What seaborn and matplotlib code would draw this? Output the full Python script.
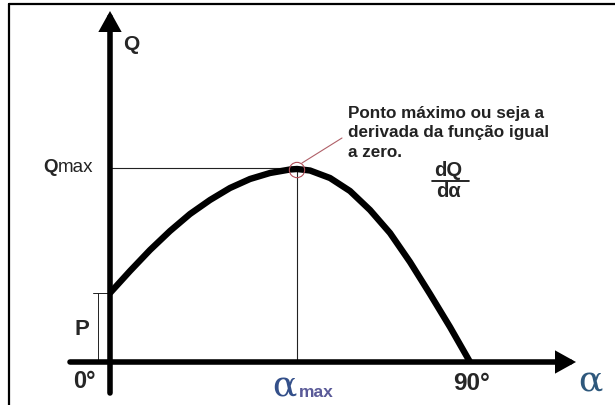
import matplotlib
matplotlib.use("Agg")
import matplotlib.pyplot as plt
import seaborn as sns
import pandas as pd

# Angle (degrees) and Q values along the curve
alpha_deg = [0, 5, 10, 15, 20, 25, 30, 35, 40, 45, 46.75,
             50, 55, 60, 65, 70, 75, 80, 85, 90]
q_values = [69, 91, 112, 131, 148, 162, 174, 183, 189, 192.5, 193,
            191.5, 184, 171, 152, 129, 100, 68, 35, 0]

alpha_max = 46.75
q_max = 193
p_value = 69

tick_labels = ["0°", "90°"]
annotation_lines = ["Ponto máximo ou seja a", "derivada da função igual", "a zero."]

sns.set_style("white")
plt.rcParams["font.family"] = ["Liberation Sans", "DejaVu Sans"]

fig = plt.figure(figsize=(6.15, 4.05), dpi=100)
ax = fig.add_axes([0, 0, 1, 1])
ax.set_xlim(-27.5, 126.25)
ax.set_ylim(-43, 362)
ax.axis("off")

df = pd.DataFrame({"alpha": alpha_deg, "Q": q_values})

# guide lines to the maximum
ax.plot([0, alpha_max], [q_max + 1, q_max + 1], color="#222222", lw=0.8, zorder=1)
ax.plot([alpha_max, alpha_max], [0, q_max], color="#222222", lw=0.8, zorder=1)

# P bracket
ax.plot([-3, -3], [0, p_value], color="#222222", lw=0.7, zorder=1)
ax.plot([-4.25, 0], [p_value, p_value], color="#222222", lw=0.7, zorder=1)

# curve
line_ax = sns.lineplot(data=df, x="alpha", y="Q", ax=ax, color="black", lw=4.6,
                       sort=False, zorder=3)
for ln in line_ax.lines[-1:]:
    ln.set_solid_joinstyle("round")
    ln.set_solid_capstyle("butt")

# coordinate axes with arrowheads
arrow_kw = dict(arrowstyle="-|>,head_length=0.9,head_width=0.5", color="black",
                lw=4.0, shrinkA=0, shrinkB=0, joinstyle="miter")
ax.annotate("", xy=(0, 351), xytext=(0, -31), arrowprops=arrow_kw, zorder=4)
ax.annotate("", xy=(116.5, 0), xytext=(-10, 0), arrowprops=arrow_kw, zorder=4)

# marker at the maximum
ax.scatter([alpha_max], [q_max - 1], s=11 ** 2, facecolors="none",
           edgecolors="#b0505a", linewidths=0.8, zorder=5)
ax.plot([48, 58], [q_max + 6, q_max + 31], color="#b06068", lw=0.8, zorder=5)

# labels
ax.text(3.25, 312, "Q", fontsize=15, fontweight="bold", ha="left", va="baseline")
ax.text(-16.75, 190, "Q", fontsize=13.5, fontweight="bold", ha="left", va="baseline")
ax.text(-13.1, 190, "max", fontsize=13.5, ha="left", va="baseline", color="#222222")
ax.text(-8.75, 27, "P", fontsize=16, fontweight="bold", ha="left", va="baseline")
ax.text(-9.25, -26, tick_labels[0], fontsize=17, fontweight="bold", ha="left", va="baseline")
ax.text(85.75, -28, tick_labels[1], fontsize=17.5, fontweight="bold", ha="left", va="baseline")

ax.text(40.5, -34, "α", fontsize=26, family="DejaVu Serif", ha="left",
        va="baseline", color="#34508a")
ax.text(47.25, -35, "max", fontsize=12.5, fontweight="bold", ha="left",
        va="baseline", color="#5a5a98")
ax.text(117, -29, "α", fontsize=26, family="DejaVu Serif", ha="left",
        va="baseline", color="#2e587c")

for i, line in enumerate(annotation_lines):
    ax.text(59.5, 244 - 19.5 * i, line, fontsize=12.3, fontweight="bold",
            ha="left", va="baseline", color="#222222")

# derivative fraction
ax.text(84.6, 186, "dQ", fontsize=14.5, fontweight="bold", ha="center", va="baseline")
ax.plot([80.5, 89.75], [181, 181], color="black", lw=1.2)
ax.text(84.6, 165, "dα", fontsize=14.5, fontweight="bold", ha="center", va="baseline")

# frame
ax.plot([-25.25, 126.25], [358, 358], color="black", lw=1.6, clip_on=False)
ax.plot([-25.25, -25.25], [-43, 358], color="black", lw=1.6, clip_on=False)

fig.savefig("out.png", dpi=100)
